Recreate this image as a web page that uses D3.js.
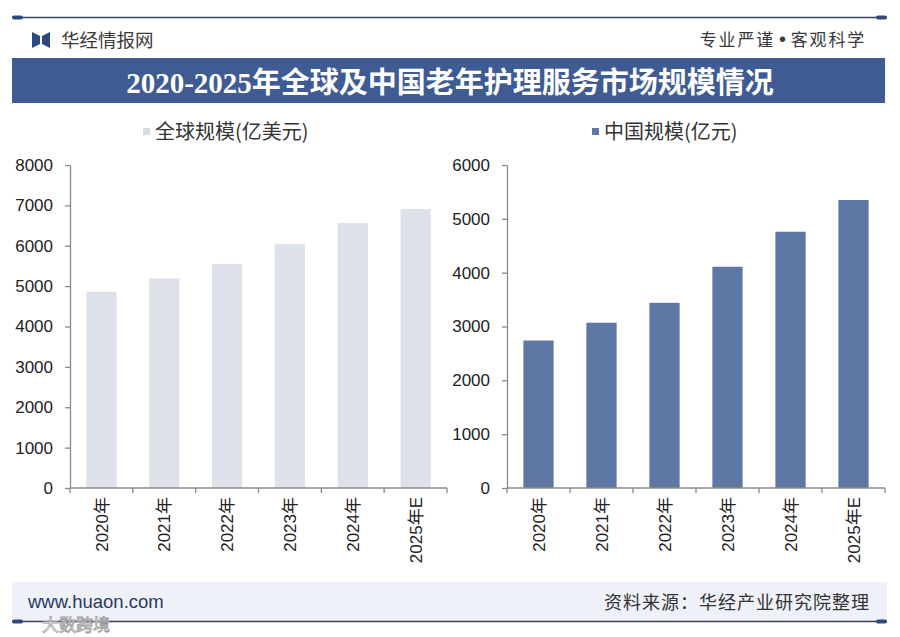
<!DOCTYPE html>
<meta charset="utf-8">
<head>
  <script src="https://d3js.org/d3.v7.min.js"></script>
  <style>
    body { margin: 0; background: #fff; }
    text { font-family: "Liberation Sans", Arial, "Noto Sans CJK SC", sans-serif; }
    .cjk { font-family: "Noto Sans CJK SC", sans-serif; }
    .axis path, .axis line { stroke: #8a8a8a; }
    .axis text { fill: #222; font-size: 17px; font-family: "Liberation Sans", Arial, "Noto Sans CJK SC", sans-serif; }
  </style>
</head>
<body>
<script>
// data
const years = ["2020年", "2021年", "2022年", "2023年", "2024年", "2025年E"];
const globalSize = [4860, 5190, 5550, 6040, 6560, 6910];   // 亿美元
const chinaSize = [2740, 3070, 3440, 4110, 4760, 5350];    // 亿元
const globalMax = 8000;
const chinaMax = 6000;

const W = 900, H = 637;
const navy = "#3e5b93";

const svg = d3.select("body").append("svg")
  .attr("width", W)
  .attr("height", H);

// ---- header ----
function capLine(y, color) {
  svg.append("line")
    .attr("x1", 12).attr("x2", 887).attr("y1", y).attr("y2", y)
    .attr("stroke", color).attr("stroke-width", 1.5);
  [[12, 23], [876, 887]].forEach(function (c) {
    svg.append("rect")
      .attr("x", c[0]).attr("y", y - 2).attr("width", c[1] - c[0]).attr("height", 4)
      .attr("rx", 2).attr("fill", "#2c4a80");
  });
}
capLine(17.5, "#3b4862");

// logo mark
svg.append("path")
  .attr("d", "M32,32 L40,36 L40,44 L32,48 Z M50,32 L42,36 L42,44 L50,48 Z")
  .attr("fill", "#2c4a80");
svg.append("text").attr("class", "cjk")
  .attr("x", 61).attr("y", 47)
  .attr("font-size", 18.5).attr("fill", "#3a3a3a")
  .text("华经情报网");

const slogan = svg.append("text").attr("class", "cjk")
  .attr("x", 866).attr("y", 46)
  .attr("text-anchor", "end")
  .attr("font-size", 17).attr("letter-spacing", 1.8).attr("fill", "#3a3a3a");
slogan.append("tspan").text("专业严谨");
slogan.append("tspan")
  .attr("dx", 4).attr("font-size", 20)
  .style("font-family", "'Liberation Sans', sans-serif")
  .text("•");
slogan.append("tspan").attr("dx", 3).text("客观科学");

// title band
svg.append("rect")
  .attr("x", 12).attr("y", 58).attr("width", 873).attr("height", 45)
  .attr("fill", navy);
svg.append("text")
  .attr("x", 450).attr("y", 93)
  .attr("text-anchor", "middle")
  .attr("font-size", 29).attr("font-weight", "bold").attr("fill", "#fff")
  .style("font-family", "'Liberation Serif', 'Noto Sans CJK SC', serif")
  .text("2020-2025年全球及中国老年护理服务市场规模情况");

// ---- panels ----
function panel(opts) {
  const x = d3.scaleBand()
    .domain(years)
    .range([opts.x0, opts.x1])
    .paddingInner(0.52)
    .paddingOuter(0.26);
  const y = d3.scaleLinear()
    .domain([0, opts.max])
    .range([488, 165]);

  // legend
  svg.append("rect")
    .attr("x", opts.legendX).attr("y", 128).attr("width", 7).attr("height", 7)
    .attr("fill", opts.legendColor);
  svg.append("text").attr("class", "cjk")
    .attr("x", opts.legendX + 12).attr("y", 139)
    .attr("font-size", 20).attr("fill", "#333")
    .text(opts.label);

  // bars
  svg.append("g")
    .selectAll("rect")
    .data(opts.values)
    .join("rect")
    .attr("x", (d, i) => x(years[i]))
    .attr("y", d => y(d))
    .attr("width", x.bandwidth())
    .attr("height", d => y(0) - y(d))
    .attr("fill", opts.color);

  // y axis
  svg.append("g")
    .attr("class", "axis")
    .attr("transform", `translate(${opts.x0},0)`)
    .call(d3.axisLeft(y).tickValues(d3.range(0, opts.max + 1, 1000))
      .tickSize(5).tickSizeOuter(0).tickPadding(12).tickFormat(d3.format("d")))
    .call(g => g.selectAll("line, path").attr("stroke-width", 1.3));

  // x axis line with ticks at band boundaries
  const xa = svg.append("g").attr("class", "axis");
  xa.append("line")
    .attr("x1", opts.x0).attr("x2", opts.x1)
    .attr("y1", y(0)).attr("y2", y(0))
    .attr("stroke-width", 1.3);
  const edges = d3.range(years.length + 1).map(i => opts.x0 + i * (opts.x1 - opts.x0) / years.length);
  xa.selectAll(".edge")
    .data(edges)
    .join("line")
    .attr("class", "edge")
    .attr("x1", d => d).attr("x2", d => d)
    .attr("y1", y(0)).attr("y2", y(0) + 5)
    .attr("stroke-width", 1.3);
  xa.selectAll(".lab")
    .data(years)
    .join("text")
    .attr("class", "lab")
    .attr("transform", d => `translate(${x(d) + x.bandwidth() / 2},497) rotate(-90)`)
    .attr("text-anchor", "end")
    .attr("dy", "0.36em")
    .text(d => d);
}

panel({
  x0: 70, x1: 447, max: globalMax, values: globalSize,
  color: "#dde1e9", legendColor: "#d8dce4", legendX: 143,
  label: "全球规模(亿美元)"
});
panel({
  x0: 507, x1: 885, max: chinaMax, values: chinaSize,
  color: "#5e77a4", legendColor: "#5e77a4", legendX: 592,
  label: "中国规模(亿元)"
});

// ---- footer ----
svg.append("rect")
  .attr("x", 12).attr("y", 582).attr("width", 875).attr("height", 39)
  .attr("fill", "#eef1f7");
svg.append("text")
  .attr("x", 28).attr("y", 608)
  .attr("font-size", 18.5).attr("fill", "#2a3960")
  .text("www.huaon.com");
svg.append("text").attr("class", "cjk")
  .attr("x", 870).attr("y", 609)
  .attr("text-anchor", "end")
  .attr("font-size", 18).attr("letter-spacing", 1).attr("fill", "#333")
  .text("资料来源：华经产业研究院整理");
capLine(621.5, "#3b4256");

// source watermark
svg.append("text").attr("class", "cjk")
  .attr("x", 42).attr("y", 631)
  .attr("font-size", 17).attr("fill", "#fff")
  .attr("stroke", "#9a9a9a").attr("stroke-width", 0.8)
  .text("大数跨境");
</script>
</body>
</html>
